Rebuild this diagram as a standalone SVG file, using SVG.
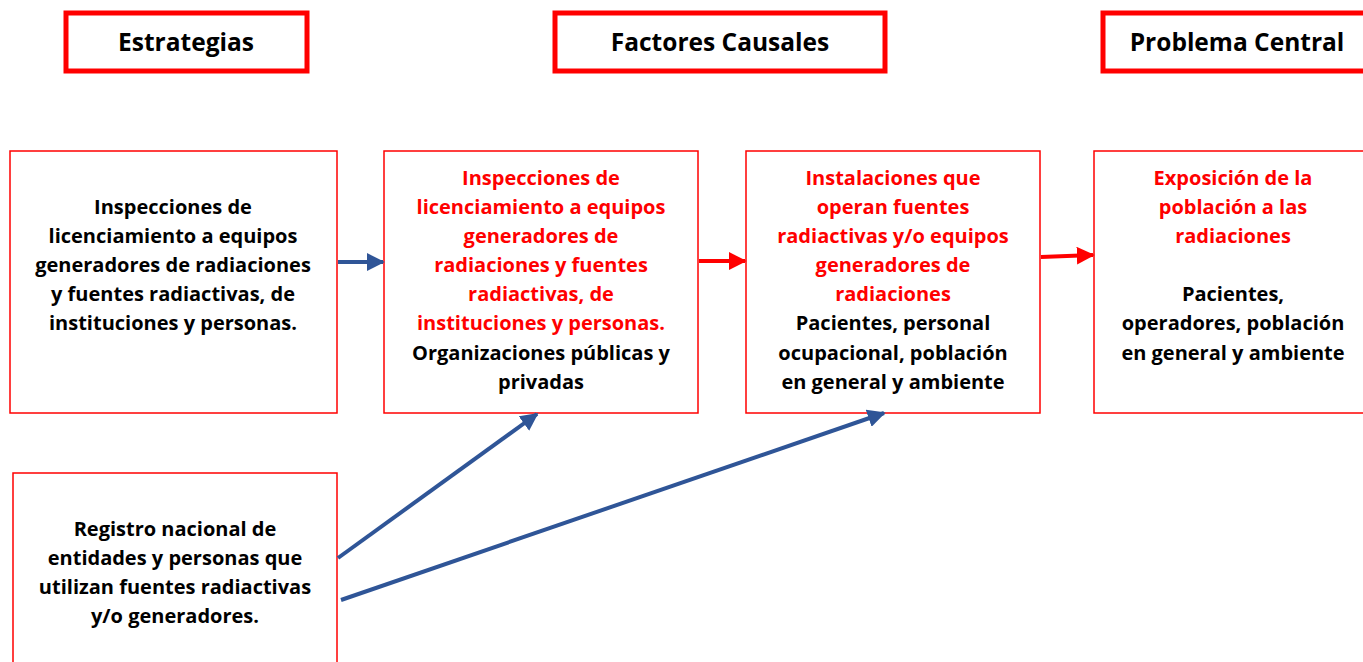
<svg xmlns="http://www.w3.org/2000/svg" width="1363" height="662" viewBox="0 0 1363 662">
<defs>
<style>
.hdr{fill:#fff;stroke:#ff0000;stroke-width:5}
.box{fill:#fff;stroke:#ff0000;stroke-width:1.5}
text{font-family:"Open Sans",Lato,"Liberation Sans",sans-serif;font-weight:bold;text-anchor:middle}
.h{font-size:24.5px;fill:#000}
.t{font-size:20px;fill:#000}
.r{font-size:20px;fill:#ff0000}
.blue{stroke:#2f5597;stroke-width:4;fill:none}
.red{stroke:#ff0000;stroke-width:4;fill:none}
</style>
<marker id="ab" viewBox="0 0 10 10" refX="9" refY="5" markerWidth="4.5" markerHeight="4.5" orient="auto" markerUnits="strokeWidth"><path d="M0,0 L10,5 L0,10 z" fill="#2f5597"/></marker>
<marker id="ar" viewBox="0 0 10 10" refX="9" refY="5" markerWidth="4.5" markerHeight="4.5" orient="auto" markerUnits="strokeWidth"><path d="M0,0 L10,5 L0,10 z" fill="#ff0000"/></marker>
</defs>
<g id="h1"><rect class="hdr" x="66" y="13" width="241" height="58"/><text class="h" x="186" y="51">Estrategias</text></g>
<g id="h2"><rect class="hdr" x="555" y="13" width="330" height="58"/><text class="h" x="720" y="51">Factores Causales</text></g>
<g id="h3"><rect class="hdr" x="1103" y="13" width="270" height="58"/><text class="h" x="1237" y="51">Problema Central</text></g>

<g id="n1"><rect class="box" x="10" y="151" width="327" height="262"/>
<text class="t"><tspan x="173" y="214">Inspecciones de</tspan><tspan x="173" y="243">licenciamiento a equipos</tspan><tspan x="173" y="272">generadores de radiaciones</tspan><tspan x="173" y="301">y fuentes radiactivas, de</tspan><tspan x="173" y="330">instituciones y personas.</tspan></text></g>

<g id="n2"><rect class="box" x="384" y="151" width="314" height="262"/>
<text class="r"><tspan x="541" y="185">Inspecciones de</tspan><tspan x="541" y="214">licenciamiento a equipos</tspan><tspan x="541" y="243">generadores de</tspan><tspan x="541" y="272">radiaciones y fuentes</tspan><tspan x="541" y="301">radiactivas, de</tspan><tspan x="541" y="330">instituciones y personas.</tspan></text>
<text class="t"><tspan x="541" y="360">Organizaciones públicas y</tspan><tspan x="541" y="389">privadas</tspan></text></g>

<g id="n3"><rect class="box" x="746" y="151" width="294" height="262"/>
<text class="r"><tspan x="893" y="185">Instalaciones que</tspan><tspan x="893" y="214">operan fuentes</tspan><tspan x="893" y="243">radiactivas y/o equipos</tspan><tspan x="893" y="272">generadores de</tspan><tspan x="893" y="301">radiaciones</tspan></text>
<text class="t"><tspan x="893" y="330">Pacientes, personal</tspan><tspan x="893" y="360">ocupacional, población</tspan><tspan x="893" y="389">en general y ambiente</tspan></text></g>

<g id="n4"><rect class="box" x="1094" y="151" width="280" height="262"/>
<text class="r"><tspan x="1233" y="185">Exposición de la</tspan><tspan x="1233" y="214">población a las</tspan><tspan x="1233" y="243">radiaciones</tspan></text>
<text class="t"><tspan x="1233" y="301">Pacientes,</tspan><tspan x="1233" y="330">operadores, población</tspan><tspan x="1233" y="360">en general y ambiente</tspan></text></g>

<g id="n5"><rect class="box" x="13" y="473" width="324" height="200"/>
<text class="t"><tspan x="175" y="536">Registro nacional de</tspan><tspan x="175" y="565">entidades y personas que</tspan><tspan x="175" y="594">utilizan fuentes radiactivas</tspan><tspan x="175" y="623">y/o generadores.</tspan></text></g>

<g id="connectors">
<line class="blue" x1="338" y1="262" x2="383" y2="262" marker-end="url(#ab)"/>
<line class="red" x1="699" y1="261" x2="745" y2="261" marker-end="url(#ar)"/>
<line class="red" x1="1041" y1="257" x2="1093" y2="255" marker-end="url(#ar)"/>
<line class="blue" x1="338" y1="558" x2="537" y2="414" marker-end="url(#ab)"/>
<line class="blue" x1="341" y1="600" x2="884" y2="413" marker-end="url(#ab)"/>
</g>
</svg>
